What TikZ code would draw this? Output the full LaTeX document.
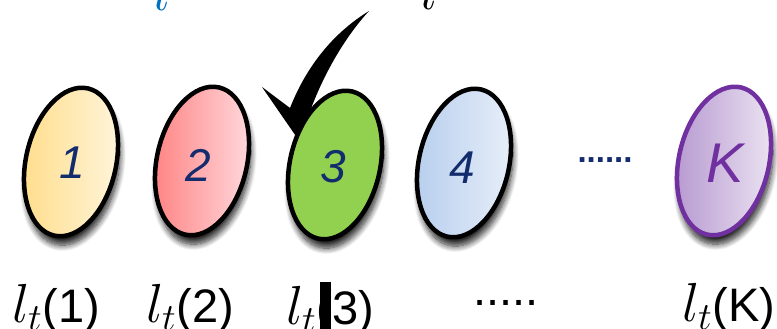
\RequirePackage{fix-cm}
\documentclass[tikz,border=0pt]{standalone}
\usepackage{fontspec}
\setmainfont{Liberation Sans}
\usetikzlibrary{shapes.geometric,shadows.blur}
\definecolor{navy}{HTML}{132C6E}
\definecolor{tblue}{HTML}{0070C0}
\definecolor{purp}{HTML}{7030A0}
\definecolor{grn}{HTML}{92D050}
\definecolor{yA}{HTML}{FFDC88}
\definecolor{yB}{HTML}{FFF6DE}
\definecolor{rA}{HTML}{FF8080}
\definecolor{rB}{HTML}{FFDCE0}
\definecolor{bA}{HTML}{B5CDED}
\definecolor{bB}{HTML}{EAF0F9}
\definecolor{pA}{HTML}{B597CF}
\definecolor{pB}{HTML}{EDE6F3}
\newcommand{\ltm}{{\fontsize{55}{60}\selectfont$l_t$}}
\tikzset{
  oval/.style={ellipse, draw=black, line width=4.5pt, minimum width=90pt, minimum height=151pt, inner sep=0pt, rotate=-13,
    blur shadow={shadow xshift=2pt, shadow yshift=-9pt, shadow blur steps=10, shadow blur radius=6pt, shadow opacity=85}},
  num/.style={text=navy, font=\fontsize{46}{50}\selectfont\itshape, inner sep=0pt},
  lab/.style={anchor=base west, inner sep=0pt, font=\fontsize{47}{52}\selectfont},
}
\begin{document}
\begin{tikzpicture}[x=1pt,y=-1pt]
\useasboundingbox (0,0) rectangle (777,329);
\clip (0,0) rectangle (777,329);
% top fragments
\node[lab, anchor=base, text=tblue, font=\fontsize{55}{60}\selectfont] (top1) at (163,11) {$l$};
\node[lab, anchor=base, text=black, font=\fontsize{55}{60}\selectfont] (top2) at (430,10) {$l$};
% check mark
\fill[black] (262,87) -- (290,108) .. controls (305,70) and (330,35) .. (369,11)
  .. controls (346,36) and (326,70) .. (312,106) -- (300,142) -- cycle;
% ellipses
\node[oval, left color=yA, right color=yB] (e1) at (71,162) {};
\node[oval, left color=rA, right color=rB] (e2) at (202,161) {};
\node[oval, fill=grn] (e3) at (335,165) {};
\node[oval, left color=bA, right color=bB] (e4) at (464,163) {};
\node[oval, draw=purp, left color=pA, right color=pB] (eK) at (724,161) {};
% numbers
\node[num] (n1) at (72,163) {1};
\node[num] (n2) at (198,165) {2};
\node[num] (n3) at (333,167) {3};
\node[num] (n4) at (462,168) {4};
\node[num, text=purp, font=\fontsize{56}{60}\selectfont\itshape] (nK) at (725,163) {K};
\node[text=navy, inner sep=0pt, font=\fontsize{33}{36}\selectfont\bfseries] (dots1) at (605,160) {......};
% labels
\node[lab] (l1) at (12,322) {\ltm(1)};
\node[lab] (l2) at (146,322) {\ltm(2)};
\node[lab] (l3) at (286,324) {\ltm(3)};
\node[lab] (ldots) at (473,305) {.....};
\node[lab] (lK) at (682,321) {\ltm(K)};
\fill[black] (320,282) rectangle (331,329);
\end{tikzpicture}
\end{document}
